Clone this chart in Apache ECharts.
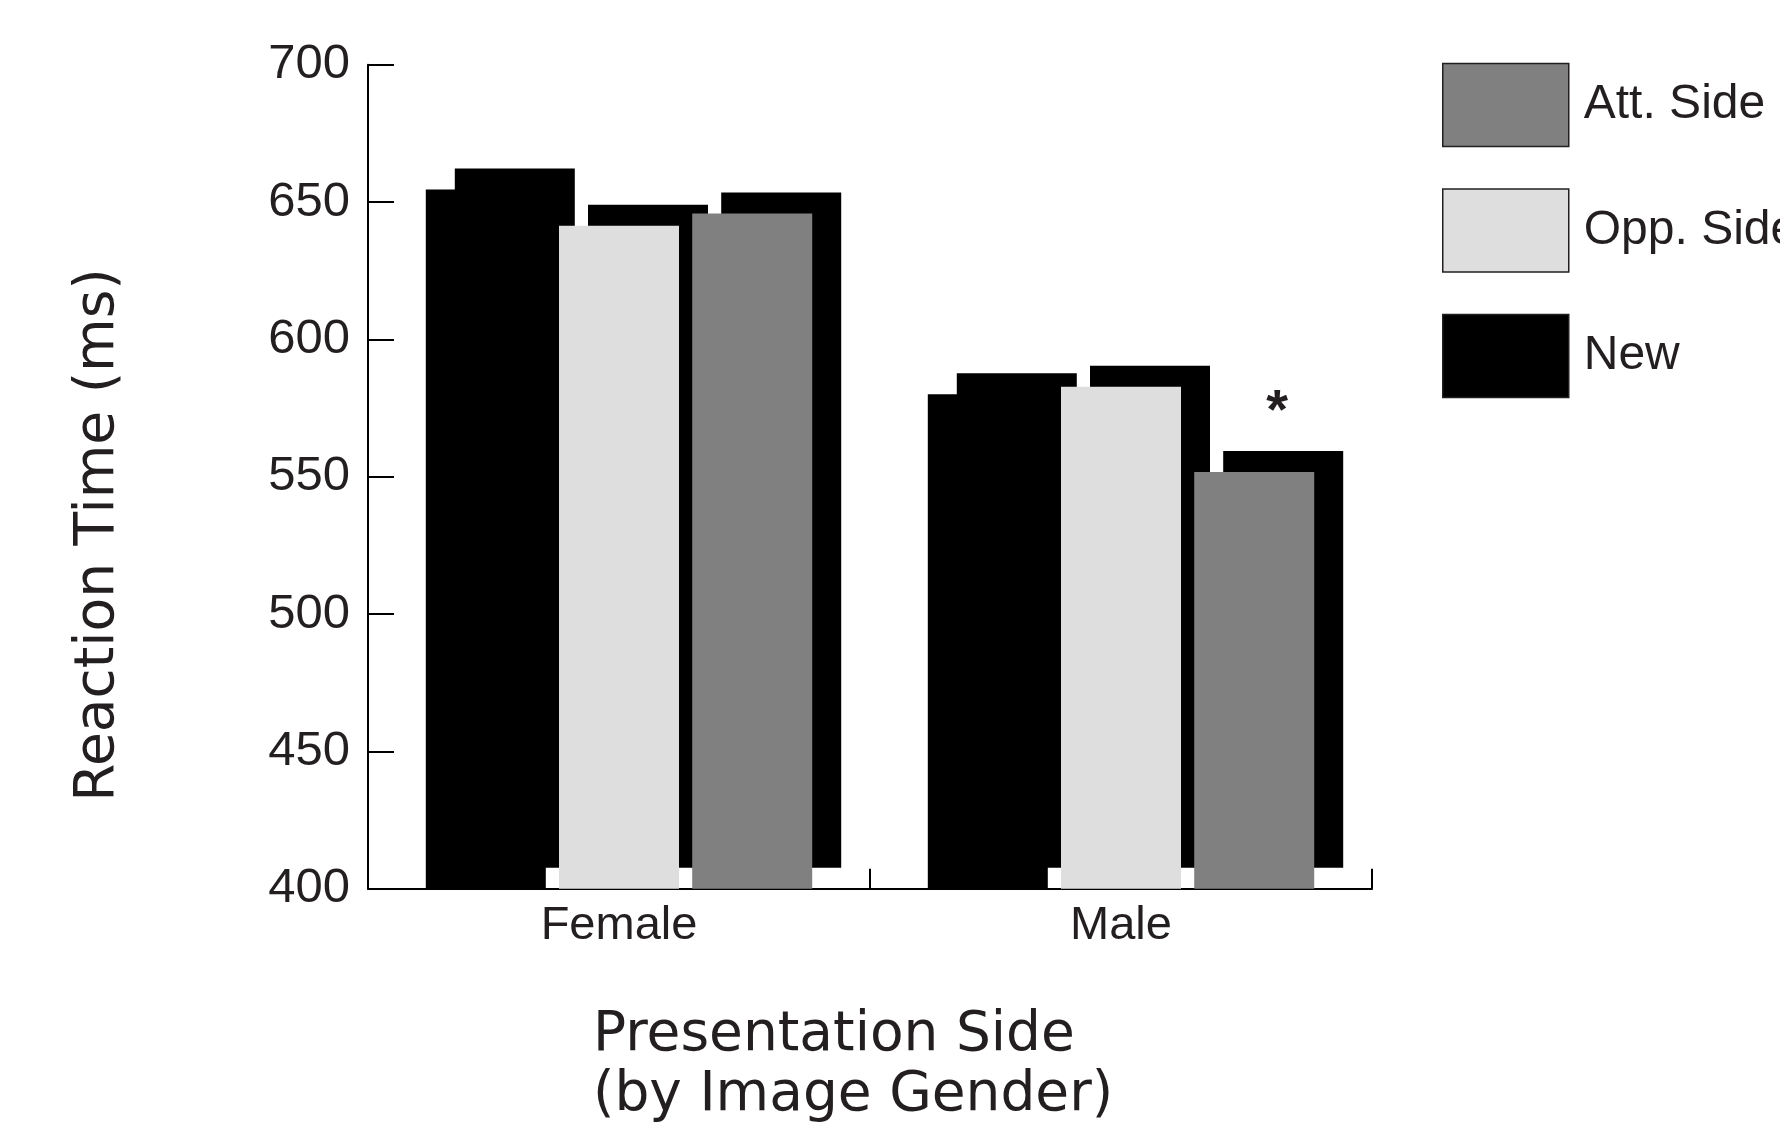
<!DOCTYPE html>
<html>
<head>
<meta charset="utf-8">
<script src="https://cdn.jsdelivr.net/npm/echarts@6/dist/echarts.min.js"></script>
<style>
  html, body { margin: 0; padding: 0; background: #ffffff; }
  #chart { width: 1780px; height: 1124px; }
</style>
</head>
<body>
<div id="chart"></div>
<script>
// Mean reaction times (ms) per presentation side
const categories = ['Female', 'Male'];
const newValues = [654.6, 580.0];
const oppValues = [641.4, 582.8];
const attValues = [645.8, 551.7];
// Significance marker above the Att. Side bar
const attMarked = [false, true];

const yMin = 400;
const yMax = 700;
const yStep = 50;

const narrowFont = '"Liberation Sans Narrow", "Arial Narrow", "Liberation Sans", sans-serif';
const wideFont = '"DejaVu Sans", "Liberation Sans", sans-serif';
const inkColor = '#231f20';

// Each bar casts a hard black shadow up and to the right
const shadow = {
  shadowColor: '#000000',
  shadowBlur: 0,
  shadowOffsetX: 29,
  shadowOffsetY: -21
};

const chart = echarts.init(document.getElementById('chart'), null, { renderer: 'canvas' });

chart.setOption({
  animation: false,
  backgroundColor: '#ffffff',
  grid: { left: 368, right: 408, top: 64.7, bottom: 235.2, containLabel: false },
  legend: {
    data: ['Att. Side', 'Opp. Side', 'New'],
    orient: 'vertical',
    left: 1442,
    top: 62.7,
    padding: 0,
    itemWidth: 126,
    itemHeight: 83,
    itemGap: 41,
    icon: 'rect',
    selectedMode: false,
    itemStyle: {
      borderColor: inkColor,
      borderWidth: 1.5,
      shadowColor: 'rgba(0,0,0,0)',
      shadowBlur: 0,
      shadowOffsetX: 0,
      shadowOffsetY: 0
    },
    textStyle: {
      fontFamily: narrowFont,
      fontSize: 48,
      color: inkColor,
      padding: [0, 0, 0, 10]
    }
  },
  xAxis: {
    type: 'category',
    data: categories,
    axisLine: { lineStyle: { color: '#000000', width: 2 } },
    axisTick: { show: true, inside: true, length: 20, alignWithLabel: false, lineStyle: { color: '#000000', width: 2 } },
    axisLabel: { fontFamily: narrowFont, fontSize: 47, color: inkColor, margin: 14 },
    splitLine: { show: false }
  },
  yAxis: {
    type: 'value',
    min: yMin,
    max: yMax,
    interval: yStep,
    axisLine: { show: true, lineStyle: { color: '#000000', width: 2 } },
    axisTick: { show: true, inside: true, length: 26, lineStyle: { color: '#000000', width: 2 } },
    axisLabel: { fontFamily: narrowFont, fontSize: 49, color: inkColor, margin: 18 },
    splitLine: { show: false }
  },
  series: [
    {
      name: 'New',
      type: 'bar',
      data: newValues,
      barWidth: 120,
      barGap: '11%',
      silent: true,
      itemStyle: Object.assign({ color: '#000000', borderWidth: 0 }, shadow)
    },
    {
      name: 'Opp. Side',
      type: 'bar',
      data: oppValues,
      barWidth: 120,
      barGap: '11%',
      silent: true,
      itemStyle: Object.assign({ color: '#dedede', borderWidth: 0 }, shadow)
    },
    {
      name: 'Att. Side',
      type: 'bar',
      data: attValues.map((v, i) => ({ value: v, label: { show: attMarked[i] } })),
      barWidth: 120,
      barGap: '11%',
      silent: true,
      itemStyle: Object.assign({ color: '#808080', borderWidth: 0 }, shadow),
      label: {
        show: false,
        position: 'top',
        formatter: '*',
        distance: 32,
        offset: [23, 0],
        fontFamily: '"Liberation Sans", sans-serif',
        fontWeight: 'bold',
        fontSize: 56,
        color: inkColor
      }
    }
  ],
  graphic: [
    {
      type: 'text',
      x: 99,
      y: 535,
      rotation: Math.PI / 2,
      style: {
        text: 'Reaction Time (ms)',
        fontFamily: wideFont,
        fontSize: 55,
        fill: inkColor,
        textAlign: 'center',
        textVerticalAlign: 'middle'
      }
    },
    {
      type: 'text',
      x: 593,
      y: 1066,
      style: {
        text: 'Presentation Side\n(by Image Gender)',
        fontFamily: wideFont,
        fontSize: 55,
        lineHeight: 60,
        fill: inkColor,
        textAlign: 'left',
        textVerticalAlign: 'middle'
      }
    }
  ]
});
</script>
</body>
</html>
